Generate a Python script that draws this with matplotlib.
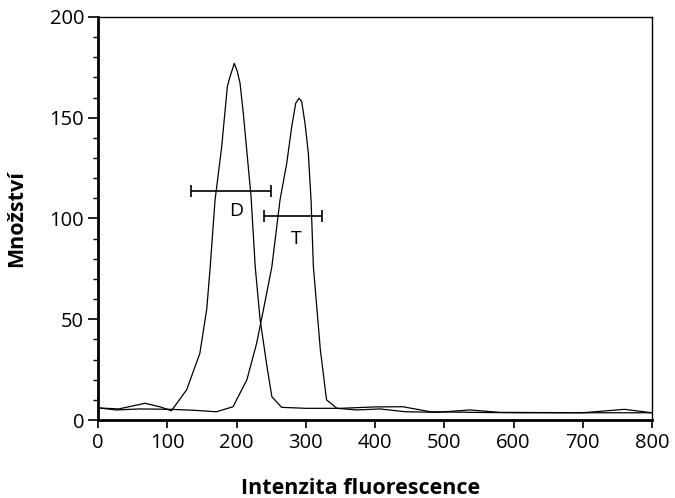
import matplotlib
matplotlib.use("Agg")
import matplotlib.pyplot as plt
from matplotlib.ticker import MultipleLocator

plt.rcParams['font.family'] = ['Open Sans', 'DejaVu Sans']

# D curve
d_x = [0, 30, 68, 90, 106, 128, 147, 157, 162, 169, 178.6, 186.7, 190.6, 196.8, 201.2,
       205.1, 209.8, 215.6, 221, 227, 234, 244, 251, 265, 300, 350, 400, 440, 480,
       540, 600, 700, 760, 800]
d_y = [6, 5.5, 8.3, 6.5, 4.6, 15, 33, 55, 76, 109.2, 135.6, 165.4, 170.4, 177, 172.9,
       167.1, 152.2, 130.7, 110.8, 76, 50, 26.5, 11.6, 6.3, 5.8, 5.8, 6.5, 6.6, 4.1,
       3.8, 3.6, 3.6, 5.3, 3.6]

# T curve
t_x = [0, 27, 60, 106, 140, 171, 195, 215, 229, 239, 251, 262.8, 272.5, 279.7, 285.5,
       290.3, 294.1, 298.9, 303.7, 307.6, 311, 321, 330, 345, 374, 407, 444, 490, 537,
       580, 700, 800]
t_y = [6, 5, 5.5, 5.3, 4.8, 4.1, 6.6, 20, 38, 55, 76, 109.2, 127.4, 145.6, 157.2,
       159.7, 158, 147.2, 132.4, 109.2, 76, 35, 10, 5.8, 5, 5.5, 4.1, 3.8, 5,
       3.8, 3.6, 3.6]

# gate bars: label, x start, x end, y, label x, label y
gates = [('D', 134, 250, 113.6, 199, 103.5),
         ('T', 240, 324, 101, 286, 90)]

fig = plt.figure(figsize=(6.75, 4.98), dpi=100)
ax = fig.add_axes([0.1452, 0.1566, 0.8208, 0.8093])

ax.plot(d_x, d_y, color='black', lw=0.9)
ax.plot(t_x, t_y, color='black', lw=0.9)

for name, x0, x1, y, lx, ly in gates:
    ax.errorbar([(x0 + x1) / 2], [y], xerr=[(x1 - x0) / 2], color='black',
                lw=1.2, capsize=4, capthick=1.2, fmt='none')
    ax.text(lx, ly, name, fontsize=14, ha='center', va='center')

ax.set_xlim(0, 800)
ax.set_ylim(0, 200)
ax.xaxis.set_major_locator(MultipleLocator(100))
ax.yaxis.set_major_locator(MultipleLocator(50))
ax.yaxis.set_minor_locator(MultipleLocator(10))
ax.tick_params(axis='both', labelsize=14.5, width=1.2, direction='out', pad=3)
ax.tick_params(axis='y', which='major', length=7)
ax.tick_params(axis='x', which='major', length=6)
ax.tick_params(axis='y', which='minor', width=1, length=3.5)
ax.tick_params(axis='x', which='minor', length=0)
ax.spines['left'].set_linewidth(2)
ax.spines['bottom'].set_linewidth(2)
ax.spines['top'].set_linewidth(1)
ax.spines['right'].set_linewidth(1)

ax.set_xlabel('Intenzita fluorescence', fontsize=15.5, fontweight='bold')
ax.xaxis.set_label_coords(0.473, -0.145)
ax.set_ylabel('Množství', fontsize=15.5, fontweight='bold', labelpad=16)

fig.savefig('out.png', dpi=100)
